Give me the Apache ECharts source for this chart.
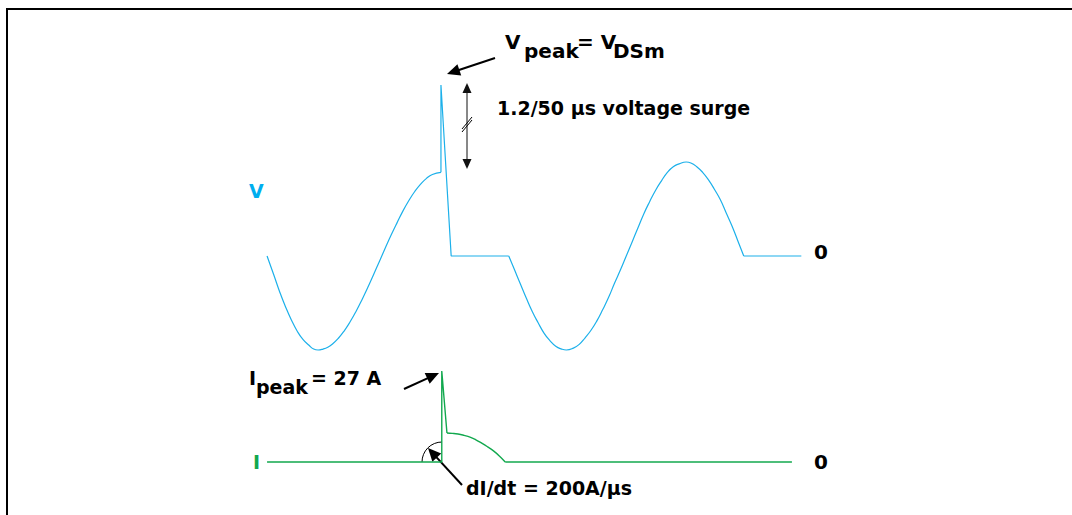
<!DOCTYPE html>
<html><head><meta charset="utf-8">
<script src="https://cdn.jsdelivr.net/npm/echarts@6/dist/echarts.min.js"></script>
<style>html,body{margin:0;padding:0;background:#fff;overflow:hidden}#c{position:absolute;left:0;top:0;width:1072px;height:515px}</style>
</head><body><div id="c"></div>
<script>
// Time in ms; voltage normalised to mains peak; current in A
const vSine1 = [[0.43,0],[1.0,-0.2],[1.5,-0.38],[2.0,-0.54],[2.5,-0.68],[3.0,-0.8],[3.5,-0.89],[4.0,-0.95],[4.4,-0.99],[4.77,-1.0],[5.2,-0.99],[5.6,-0.97],[6.0,-0.936],[6.5,-0.875],[7.0,-0.796],[7.5,-0.70],[8.0,-0.59],[8.5,-0.467],[9.0,-0.336],[9.5,-0.197],[10.0,-0.055],[10.5,0.087],[11.0,0.225],[11.5,0.355],[12.0,0.48],[12.5,0.59],[13.0,0.686],[13.5,0.764],[14.0,0.826],[14.5,0.867],[15.23,0.89]];
const vSurge = [[15.23,0.89],[15.23,1.82],[16.1,0],[21.0,0]];
const vSine2 = [[21.0,0],[21.5,-0.15],[22.0,-0.3],[22.5,-0.45],[23.0,-0.59],[23.5,-0.71],[24.0,-0.82],[24.5,-0.9],[25.0,-0.96],[25.5,-0.99],[25.9,-1.0],[26.5,-0.98],[27.0,-0.94],[27.5,-0.87],[28.0,-0.79],[28.5,-0.69],[29.0,-0.57],[29.5,-0.44],[30.0,-0.29],[30.5,-0.15],[31.0,0],[31.5,0.15],[32.0,0.3],[32.5,0.45],[33.0,0.58],[33.5,0.7],[34.0,0.8],[34.5,0.89],[35.0,0.95],[35.5,0.98],[36.1,1.0],[36.5,0.99],[37.0,0.95],[37.5,0.89],[38.0,0.81],[38.5,0.71],[39.0,0.6],[39.5,0.46],[40.0,0.32],[40.5,0.16],[41.0,0]];
const vTail = [[41.0,0],[45.9,0]];
const iBase = [[0.43,0],[15.3,0],[15.3,27],[15.74,8.6]];
const iDecay = [[15.74,8.6],[16.2,8.5],[16.68,8.3],[17.2,7.9],[17.7,7.4],[18.2,6.6],[18.7,5.6],[19.2,4.5],[19.7,3.3],[20.2,1.8],[20.7,0]];
const iTail = [[20.7,0],[45.1,0]];

const VCOL = '#1cb0ea', ICOL = '#12a84e';
const FONT = 'DejaVu Sans';

function txt(x, y, s, size, color) {
  return {type:'text', x:x, y:y, silent:true,
    style:{text:s, fill:color||'#000', font:'bold '+size+'px "'+FONT+'"', verticalAlign:'middle', align:'left'}};
}
function arrow(tx, ty, px, py, lw, L, w, col) {
  col = col || '#000';
  const dx = px-tx, dy = py-ty, len = Math.hypot(dx,dy);
  const ux = dx/len, uy = dy/len, nx = -uy, ny = ux;
  const bx = px-L*ux, by = py-L*uy;
  return [
    {type:'line', silent:true, shape:{x1:tx,y1:ty,x2:bx+ux*2,y2:by+uy*2}, style:{stroke:col, lineWidth:lw}},
    {type:'polygon', silent:true, shape:{points:[[px,py],[bx+w*nx,by+w*ny],[bx-w*nx,by-w*ny]]}, style:{fill:col}}
  ];
}

const graphics = [
  {type:'line', silent:true, shape:{x1:7,y1:8,x2:7,y2:520}, style:{stroke:'#000', lineWidth:2}},
  {type:'line', silent:true, shape:{x1:6,y1:9,x2:1090,y2:9}, style:{stroke:'#000', lineWidth:2}},
  txt(505, 42, 'V', 20),
  txt(524, 51, 'peak', 20),
  txt(577, 42, '= V', 20),
  txt(613, 51, 'DSm', 20),
  txt(497, 108, '1.2/50 µs voltage surge', 19),
  txt(249, 191, 'V', 19, '#00aeef'),
  txt(253, 462, 'I', 19, ICOL),
  txt(814, 252, '0', 20),
  txt(814, 462, '0', 20),
  txt(249, 378, 'I', 19),
  txt(256, 387, 'peak', 19),
  txt(311, 378, '= 27 A', 19),
  txt(466, 488, 'dI/dt = 200A/µs', 19),
  {type:'arc', silent:true, shape:{cx:442, cy:462, r:20, startAngle:Math.PI, endAngle:Math.PI*1.5, clockwise:true}, style:{stroke:'#000', lineWidth:1, fill:null}},
  {type:'line', silent:true, shape:{x1:462,y1:132,x2:472,y2:120}, style:{stroke:'#000', lineWidth:1}},
  {type:'line', silent:true, shape:{x1:462,y1:129,x2:472,y2:117}, style:{stroke:'#000', lineWidth:1}}
].concat(
  arrow(495, 58, 447, 74, 2, 13, 6),
  arrow(404, 389, 439, 373, 2, 13, 6),
  arrow(462, 485, 428, 448, 2, 13, 6),
  arrow(467, 126, 467, 83, 1, 10, 4.5, '#111'),
  arrow(467, 126, 467, 169, 1, 10, 4.5, '#111')
);

function ser(data, xi, col, smooth, lw) {
  return {type:'line', data:data, xAxisIndex:xi, yAxisIndex:xi, smooth:smooth, showSymbol:false, symbol:'none',
    lineStyle:{color:col, width:lw}, itemStyle:{color:col}, silent:true, animation:false, z:3};
}

const chart = echarts.init(document.getElementById('c'), null, {renderer:'svg'});
chart.setOption({
  animation:false,
  backgroundColor:'#fff',
  grid:[{left:262, width:564, top:68, height:300.8}, {left:262, width:564, top:360.9, height:117.95}],
  xAxis:[{type:'value', gridIndex:0, min:0, max:48, show:false}, {type:'value', gridIndex:1, min:0, max:48, show:false}],
  yAxis:[{type:'value', gridIndex:0, min:-1.2, max:2.0, show:false}, {type:'value', gridIndex:1, min:-5, max:30, show:false}],
  series:[
    ser(vSine1, 0, VCOL, 0.5, 1.2),
    ser(vSurge, 0, VCOL, false, 1.2),
    ser(vSine2, 0, VCOL, 0.5, 1.2),
    ser(vTail, 0, VCOL, false, 1.2),
    ser(iBase, 1, ICOL, false, 1.4),
    ser(iDecay, 1, ICOL, 0.5, 1.4),
    ser(iTail, 1, ICOL, false, 1.4)
  ],
  graphic:graphics
});
</script></body></html>
